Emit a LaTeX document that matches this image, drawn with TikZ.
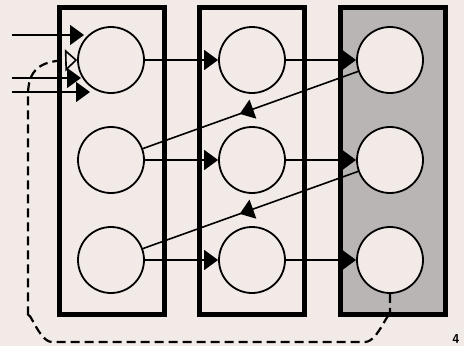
\documentclass[tikz,border=0pt]{standalone}
\usepackage{tikz}
\usetikzlibrary{arrows.meta,positioning,decorations.markings}
\definecolor{paper}{RGB}{242,234,230}
\definecolor{shade}{RGB}{186,181,181}
\tikzset{
  unit/.style={circle, draw, line width=1.8pt, minimum size=66pt, inner sep=0pt, fill=paper},
  layer/.style={rectangle, draw, line width=5pt, minimum width=105pt, minimum height=307pt, inner sep=0pt},
  link/.style={line width=1.8pt, -{Triangle[length=14pt,width=20pt]}},
  backlink/.style={line width=1.6pt, postaction={decorate},
    decoration={markings, mark=at position 0.55 with {\arrow{Triangle[length=14pt,width=20pt]}}}},
  feedback/.style={line width=2.2pt, dash pattern=on 9pt off 5pt, -{Triangle[open,length=12pt,width=22pt,line width=1.6pt]}}
}
\begin{document}
\begin{tikzpicture}[x=1pt, y=-1pt]
\useasboundingbox (0,0) rectangle (464,346);
\fill[paper] (0,0) rectangle (464,346);
% Layers
\node[layer] (layer1) at (111.5,161) {};
\node[layer] (layer2) at (251.5,161) {};
\node[layer, fill=shade] (layer3) at (392.5,161) {};
% Units
\foreach \r/\y in {1/60,2/160,3/260} {
    \node[unit] (n-\r-1) at (111,\y) {};
    \node[unit] (n-\r-2) at (252,\y) {};
    \node[unit] (n-\r-3) at (390,\y) {};
}
% Forward links
\foreach \r in {1,2,3} {
    \draw[link] (n-\r-1) -- (n-\r-2);
    \draw[link] (n-\r-2) -- (n-\r-3);
}
% Back links
\draw[backlink] (n-1-3) -- (n-2-1);
\draw[backlink] (n-2-3) -- (n-3-1);
% Inputs
\coordinate (in-1) at (12,35);  \coordinate (tip-1) at (84,35);
\coordinate (in-2) at (12,78);  \coordinate (tip-2) at (81,78);
\coordinate (in-3) at (12,92);  \coordinate (tip-3) at (90,92);
\foreach \i in {1,2,3}
    \draw[link] (in-\i) -- (tip-\i);
% Feedback loop
\draw[feedback] (n-3-3.south) -- (390,318) to[out=90,in=0] (365,342) -- (52,342)
    to[out=180,in=90] (28,318) -- (28,95) .. controls (28,70) and (40,61) .. (n-1-1.west);
% Figure number
\node[font=\sffamily\bfseries\fontsize{13}{13}\selectfont] (fignum) at (456,339) {4};
\end{tikzpicture}
\end{document}
